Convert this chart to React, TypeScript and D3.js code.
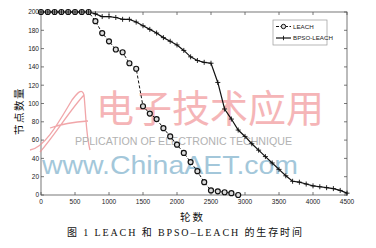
import React from "react";
import * as d3 from "d3";

const leachRounds = [0,100,200,300,400,500,600,700,800,900,1000,1100,1200,1300,1400,1500,1600,1700,1800,1900,2000,2100,2200,2300,2400,2500,2600,2700,2800,2900];
const leachNodes = [200,200,200,200,200,200,200,200,190,177,168,159,156,144,138,97,89,83,73,64,55,46,36,26,14,5,4,3,2,0];

const bpsoRounds = [0,100,200,300,400,500,600,700,800,900,1000,1100,1200,1300,1400,1500,1600,1700,1800,1900,2000,2100,2200,2300,2400,2500,2600,2700,2800,2900,3000,3100,3200,3300,3400,3500,3600,3700,3800,3900,4000,4100,4200,4300,4400,4500];
const bpsoNodes = [200,200,200,200,200,200,200,200,198,195,195,194,192,192,189,185,181,177,172,168,164,158,151,147,145,144,123,94,83,71,64,56,49,42,35,28,21,15,14,12,10,9,8,7,5,2];

const xTicks = [0,500,1000,1500,2000,2500,3000,3500,4000,4500];
const yTicks = [0,20,40,60,80,100,120,140,160,180,200];

const seriesNames = ["LEACH", "BPSO-LEACH"];
const xLabel = "轮数";
const yLabel = "节点数量";
const caption = "图 1  LEACH 和 BPSO–LEACH 的生存时间";

export default function App() {
  const W = 376, H = 248;
  const L = 41, R = 347, T = 12, B = 195;
  const x = d3.scaleLinear().domain([0, 4500]).range([L, R]);
  const y = d3.scaleLinear().domain([0, 200]).range([B, T]);

  const leach = leachRounds.map((r, i) => [r, leachNodes[i]] as [number, number]);
  const bpso = bpsoRounds.map((r, i) => [r, bpsoNodes[i]] as [number, number]);
  const line = d3.line<[number, number]>().x(d => x(d[0])).y(d => y(d[1]));

  const tickFont = "'Liberation Sans Narrow', 'Liberation Sans', Arial, sans-serif";
  const axisColor = "#555";

  return (
    <svg width={W} height={H} style={{ position: "absolute", left: 0, top: 0, background: "#fff" }}>
      <rect x={0} y={0} width={W} height={H} fill="#fff" />
      <rect x={L} y={T} width={R - L} height={B - T} fill="#fff" stroke={axisColor} strokeWidth={0.8} />
      {xTicks.map(t => (
        <g key={"xt" + t}>
          <line x1={x(t)} x2={x(t)} y1={B} y2={B - 3} stroke={axisColor} strokeWidth={0.8} />
          <line x1={x(t)} x2={x(t)} y1={T} y2={T + 3} stroke={axisColor} strokeWidth={0.8} />
          <text x={x(t)} y={204} fontSize={6.5} fontFamily={tickFont} textAnchor="middle" fill="#222">{t}</text>
        </g>
      ))}
      {yTicks.map(t => (
        <g key={"yt" + t}>
          <line x1={L} x2={L + 3} y1={y(t)} y2={y(t)} stroke={axisColor} strokeWidth={0.8} />
          <line x1={R} x2={R - 3} y1={y(t)} y2={y(t)} stroke={axisColor} strokeWidth={0.8} />
          <text x={39} y={y(t) + 2.3} fontSize={6.5} fontFamily={tickFont} textAnchor="end" fill="#222">{t}</text>
        </g>
      ))}

      {/* watermark (behind the data) */}
      <g opacity={0.8}>
        <path d="M30,150 C45,148 60,120 72,100 C78,92 82,88 84,95 C86,115 86,135 90,150 M50,128 C62,124 75,122 88,121 M84,95 C70,110 55,135 40,152"
          fill="none" stroke="#ee9094" strokeWidth={1.3} />
        <text x={96} y={122} fontSize={38} fontFamily="'Noto Sans CJK SC', sans-serif" fill="#f3a3a6" textLength={228} lengthAdjust="spacingAndGlyphs">电子技术应用</text>
        <text x={75} y={144.5} fontSize={11.5} fontFamily="'Liberation Sans', Arial, sans-serif" fill="#a0a0a0" textLength={217} lengthAdjust="spacingAndGlyphs">PPLICATION OF ELECTRONIC TECHNIQUE</text>
        <text x={42} y={174} fontSize={26} fontFamily="'Liberation Sans', Arial, sans-serif" fill="#8dbad2" textLength={256} lengthAdjust="spacingAndGlyphs">www.ChinaAET.com</text>
      </g>

      <path d={line(leach) || ""} fill="none" stroke="#111" strokeWidth={1} strokeDasharray="3,2" />
      <path d={line(bpso) || ""} fill="none" stroke="#111" strokeWidth={1.2} />
      {leach.map((d, i) => (
        <circle key={"lc" + i} cx={x(d[0])} cy={y(d[1])} r={2.5} fill="#ddd" stroke="#111" strokeWidth={1.2} />
      ))}
      {bpso.map((d, i) => (
        <g key={"bp" + i} stroke="#111" strokeWidth={0.9}>
          <line x1={x(d[0]) - 2.5} x2={x(d[0]) + 2.5} y1={y(d[1])} y2={y(d[1])} />
          <line x1={x(d[0])} x2={x(d[0])} y1={y(d[1]) - 2.5} y2={y(d[1]) + 2.5} />
        </g>
      ))}

      <rect x={273} y={20} width={54} height={25} fill="#fff" stroke="#999" strokeWidth={0.7} />
      <line x1={276} x2={291} y1={26.5} y2={26.5} stroke="#111" strokeWidth={1} strokeDasharray="3,1.5" />
      <circle cx={283.5} cy={26.5} r={2.2} fill="#ddd" stroke="#111" strokeWidth={1} />
      <text x={293} y={28.8} fontSize={6.2} fontFamily={tickFont} fill="#222">{seriesNames[0]}</text>
      <line x1={276} x2={291} y1={38} y2={38} stroke="#111" strokeWidth={1.2} />
      <line x1={283.5} x2={283.5} y1={35.8} y2={40.2} stroke="#111" strokeWidth={0.9} />
      <text x={293} y={40.3} fontSize={6.2} fontFamily={tickFont} fill="#222">{seriesNames[1]}</text>

      <text x={192.5} y={221} fontSize={10.5} fontFamily="'Noto Sans CJK SC', sans-serif" textAnchor="middle" fill="#111" letterSpacing={2}>{xLabel}</text>
      <text transform="translate(23,111) rotate(-90)" fontSize={10.5} fontFamily="'Noto Sans CJK SC', sans-serif" textAnchor="middle" fill="#111" letterSpacing={1.5}>{yLabel}</text>
      <text x={67} y={236} fontSize={10} fontFamily="'Liberation Serif', 'Noto Sans CJK SC', serif" fill="#111" textLength={235} lengthAdjust="spacing">{caption}</text>
    </svg>
  );
}
